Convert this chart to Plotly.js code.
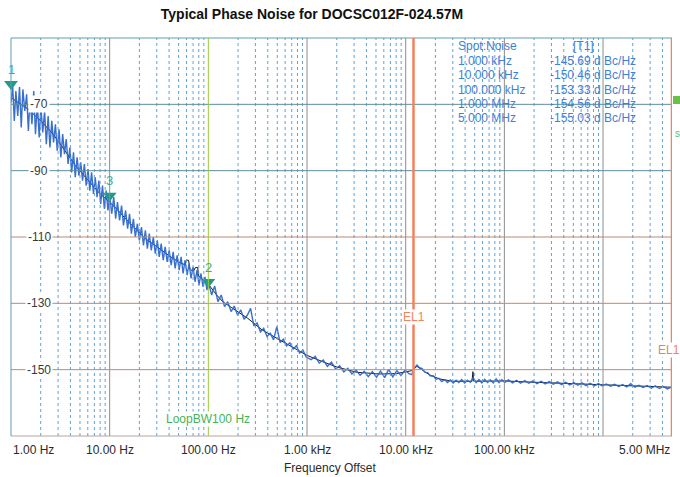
<!DOCTYPE html>
<html><head><meta charset="utf-8">
<script src="https://cdn.plot.ly/plotly-3.0.1.min.js"></script>
<style>html,body{margin:0;padding:0;background:#fff}#chart{width:680px;height:477px}</style>
</head><body><div id="chart"></div>
<script>
// ---- data ----
const noiseFreq = [
  1.00,1.04,1.08,1.12,1.17,1.22,1.27,1.32,1.38,1.44,1.50,1.56,1.63,1.70,1.77,1.85,1.93,2.01,2.10,2.19,2.28,2.38,2.48,2.59,2.70,2.82,2.94,3.07,3.20,3.34,3.48,3.63,3.79,3.95,4.12,4.30,4.48,4.68,4.88,5.09,5.31,5.54,5.78,6.03,6.29,6.56,6.85,7.14,7.45,7.77,8.11,8.46,8.83,9.21,9.61,10.0,
  10.5,11,11.5,12,12.6,13.2,13.8,14.5,15.2,15.9,16.6,17.4,18.2,19.1,20,21,22,23,24.1,25.2,26.4,27.7,29,30.4,31.8,33.3,34.9,36.5,38.3,40.1,42,44,46.1,48.3,50.6,53,55.5,58.1,60.9,63.8,66.8,70,73.3,76.8,80.4,84.2,88.2,92.4,96.8,100,
  108,116,125,135,146,157,170,183,198,213,230,248,268,289,312,337,364,393,424,458,494,533,575,621,670,723,780,842,909,981,
  1100,1210,1330,1460,1610,1770,1950,2140,2360,2590,2850,3140,3450,3800,4180,4600,5060,5560,6120,6730,7400,8140,8960,9850,
  10800,11500,12200,13000,13800,14700,15700,16700,17800,19000,20300,21700,23200,24800,26500,28300,30300,32400,34600,37000,39600,42300,45200,48300,51700,55300,59100,63200,67600,72300,77300,82600,88300,94400,
  1.01e5,1.10e5,1.21e5,1.33e5,1.46e5,1.61e5,1.77e5,1.95e5,2.14e5,2.36e5,2.59e5,2.85e5,3.14e5,3.45e5,3.80e5,4.18e5,4.60e5,5.06e5,5.56e5,6.12e5,6.73e5,7.40e5,8.14e5,8.96e5,9.85e5,
  1.08e6,1.19e6,1.31e6,1.44e6,1.58e6,1.74e6,1.91e6,2.10e6,2.31e6,2.54e6,2.80e6,3.08e6,3.38e6,3.72e6,4.09e6,4.50e6,4.95e6
];
const noiseDb = [
  -69.5,-64.5,-75,-66,-73.5,-64.8,-77,-65.5,-72,-67,-78,-68,-76,-66,-79,-69.5,-80,-71,-78.5,-72,-82,-73.5,-83,-75,-81.5,-76,-84,-77.5,-86,-79,-85,-80.5,-88,-83,-90.5,-84.5,-92,-86,-91.5,-87.5,-93,-88,-94.5,-89.5,-96,-90.5,-97,-92,-98,-93,-100,-94.5,-101.5,-96,-102,-97.5,
  -103,-98,-104.5,-99.5,-105,-100.5,-106.5,-102,-107.5,-103,-109,-104.5,-110,-106,-111,-107,-112.5,-108,-113.5,-109,-114,-110,-115,-111,-116,-112,-117,-113,-117.5,-114,-118.5,-114.5,-119.5,-115.5,-120,-116,-121,-117,-121.5,-118,-122.5,-119,-123.5,-120,-124.5,-121,-125,-122,-126,-123.5,
  -127.5,-124.8,-129.5,-127.5,-131,-129.5,-132.5,-130.8,-133.6,-132,-134.8,-133.6,-131.5,-136.8,-135.9,-138.6,-137.5,-140,-139,-141,-137,-141.8,-140.8,-142.8,-141.9,-143.8,-142.8,-145,-144.1,-146.2,
  -147,-146,-148,-147.1,-149,-147.7,-149.8,-148.8,-150.7,-149.6,-151.3,-150.1,-151.7,-150.5,-152.1,-150.6,-152.3,-150.4,-152.4,-149.9,-152.2,-150.3,-151.8,-150.1,
  -151.2,-151.5,-149.6,-148.6,-149.4,-149.7,-150.8,-150.9,-151.9,-151.8,-152.9,-152.6,-153.6,-153,-153.9,-153.1,-154,-153.2,-153.9,-153,-154,-153.2,-153.8,-152.4,-153.9,-153,-154,-152.9,-153.9,-153.1,-154,-152.8,-153.9,-153,
  -153.8,-153.1,-154,-153.2,-154.1,-153.3,-154.1,-153.4,-154.2,-153.5,-154.3,-153.6,-154.4,-153.7,-154.5,-153.8,-154.6,-153.9,-154.7,-154,-154.8,-154.1,-154.9,-154.2,-154.9,
  -154.3,-155,-154.4,-155.1,-154.5,-155.2,-154.2,-155.3,-154.7,-155.4,-154.8,-155.6,-154.9,-155.7,-155.1,-155.8,-155.2
];
const smoothFreq = [1,1.2,1.5,2,2.5,3,3.7,4.5,5.5,6.5,8,10,12,15,19,23,29,35,42,50,58,60,63,65,70,74,78,80,88,100,120,140,170,200,250,350,530,750,1000,1500,2000,3200,5500,8000,1e4,1.15e4,1.3e4,1.5e4,1.75e4,2.2e4,3e4,4.7e4,4.8e4,4.9e4,1e5,2e5,5e5,1e6,2e6,3e6,5e6];
const smoothDb = [-68,-69.5,-71.5,-75,-78,-81,-85,-88.5,-91.5,-94,-97,-99.5,-101.8,-105,-108,-110.5,-112.6,-114.5,-116.1,-117.5,-118.4,-117,-117,-119.5,-120.5,-119.2,-119.2,-121.8,-122.9,-124.2,-127.3,-129.5,-131.2,-132.5,-134.5,-138,-141,-143.5,-145.7,-147.8,-149.2,-150.8,-151.3,-151.2,-150.6,-150.3,-149,-150.2,-151.6,-152.8,-153.5,-153.5,-150.6,-153.5,-153.4,-153.8,-154.2,-154.6,-154.8,-155,-155.3];

const markerNames = ['1','3','2'];
const markerFreq = [1, 10, 100];
const markerDb = [-65.7, -99.4, -125.4];

const tickFreq = [1, 10, 100, 1000, 10000, 100000, 5000000];
const tickLabels = ['1.00 Hz','10.00 Hz','100.00 Hz','1.00 kHz','10.00 kHz','100.00 kHz','5.00 MHz'];
const yTicks = [-70, -90, -110, -130, -150];

const spotLabels = ['1.000 kHz','10.000 kHz','100.000 kHz','1.000 MHz','5.000 MHz'];
const spotValues = [-145.69, -150.46, -153.33, -154.56, -155.03];

const loopBwFreq = 100;
const el1Freqs = [12000, 5000000];

// ---- layout helpers ----
const FONT = 'Liberation Sans, Arial, sans-serif';
const L = 11, T = 38, PW = 661, PH = 398;
const YMIN = -170, YMAX = -50;
const XMAX = 5e6;
const px = x => (x - L) / PW;
const py = y => (T + PH - y) / PH;
const dbPerPx = (YMAX - YMIN) / PH;
const lg = f => Math.log10(f);

const shapes = [];
// vertical grid
for (let d = 0; d <= 6; d++) {
  for (let m = 1; m <= 9; m++) {
    const f = m * Math.pow(10, d);
    if (f >= XMAX) break;
    if (m === 1 && d === 0) continue;
    if (f === loopBwFreq) continue;
    if (m === 1) {
      shapes.push({type:'line', xref:'x', yref:'paper', x0:f, x1:f, y0:0, y1:1, line:{color:'#8d8d8d', width:1}});
    } else {
      shapes.push({type:'line', xref:'x', yref:'paper', x0:f, x1:f, y0:0, y1:1, line:{color:'#5fa3d6', width:1, dash:'dot'}});
    }
  }
}
// horizontal grid
yTicks.forEach((v, i) => {
  shapes.push({type:'line', xref:'paper', yref:'y', x0:0, x1:1, y0:v, y1:v,
    line:{color: i < 2 ? '#5b8f9c' : '#bd8a74', width:1}});
});
// borders
shapes.push({type:'line', xref:'paper', yref:'paper', x0:0, x1:1, y0:1, y1:1, line:{color:'#5f9db2', width:1}});
shapes.push({type:'line', xref:'paper', yref:'paper', x0:0, x1:1, y0:0, y1:0, line:{color:'#b5a4a0', width:1}});
shapes.push({type:'line', xref:'paper', yref:'paper', x0:0, x1:0, y0:0, y1:1, line:{color:'#5f9db2', width:1}});
// LoopBW line
shapes.push({type:'line', xref:'x', yref:'paper', x0:loopBwFreq, x1:loopBwFreq, y0:0, y1:1, line:{color:'#9ccc3c', width:1}});
// EL1 lines
el1Freqs.forEach(f => {
  shapes.push({type:'line', xref:'x', yref:'paper', x0:f, x1:f, y0:0, y1:1, line:{color:'#f2825c', width:2.5}});
});
// small green tag at right
shapes.push({type:'rect', xref:'paper', yref:'paper', x0:px(673), x1:px(680), y0:py(104), y1:py(96), fillcolor:'#6cc04a', line:{width:0}});

const annotations = [];
// x tick labels
tickFreq.forEach((f, i) => {
  annotations.push({x: lg(f), y: py(450), xref:'x', yref:'paper', text: tickLabels[i], showarrow:false,
    xanchor: i === 0 ? 'left' : (i === tickFreq.length - 1 ? 'right' : 'center'), yanchor:'middle',
    font:{family:FONT, size:12, color:'#2a2a2a'}});
});
annotations.push({x: px(330), y: py(468), xref:'paper', yref:'paper', text:'Frequency Offset', showarrow:false,
  xanchor:'center', yanchor:'middle', font:{family:FONT, size:12, color:'#2a2a2a'}});
// y tick labels inside plot
yTicks.forEach(v => {
  annotations.push({x: px(39), y: v, xref:'paper', yref:'y', text: String(v), showarrow:false,
    xanchor:'center', yanchor:'middle', bgcolor:'#ffffff', borderpad:1, font:{family:FONT, size:12, color:'#3a3a3a'}});
});
// spot noise table
const rowY = [46, 60.5, 75, 89.5, 104, 118.5];
const tblFont = {family:FONT, size:12, color:'#3f7fd4'};
annotations.push({x:px(456), y:py(rowY[0]), xref:'paper', yref:'paper', text:'Spot:Noise', showarrow:false, xanchor:'left', yanchor:'middle', font:tblFont});
annotations.push({x:px(571), y:py(rowY[0]), xref:'paper', yref:'paper', text:'[T1]', showarrow:false, xanchor:'left', yanchor:'middle', font:tblFont});
spotLabels.forEach((lab, i) => {
  annotations.push({x:px(456), y:py(rowY[i+1]), xref:'paper', yref:'paper', text:lab, showarrow:false, xanchor:'left', yanchor:'middle', font:tblFont});
  annotations.push({x:px(548), y:py(rowY[i+1]), xref:'paper', yref:'paper', text:spotValues[i].toFixed(2) + ' d Bc/Hz', showarrow:false, xanchor:'left', yanchor:'middle', font:tblFont});
});
// LoopBW label
annotations.push({x: lg(loopBwFreq), y: py(419), xref:'x', yref:'paper', text:'LoopBW100 Hz', showarrow:false,
  xanchor:'center', yanchor:'middle', bgcolor:'#ffffff', borderpad:0, font:{family:FONT, size:12, color:'#45b35a'}});
// EL1 labels
annotations.push({x: lg(el1Freqs[0]), y: py(317), xref:'x', yref:'paper', text:'EL1', showarrow:false,
  xanchor:'center', yanchor:'middle', bgcolor:'#ffffff', borderpad:0, font:{family:FONT, size:12, color:'#f2825c'}});
annotations.push({x: px(657), y: py(350), xref:'paper', yref:'paper', text:'EL1', showarrow:false,
  xanchor:'left', yanchor:'middle', bgcolor:'#ffffff', borderpad:0, font:{family:FONT, size:12, color:'#f2825c'}});
annotations.push({x: px(677), y: py(133), xref:'paper', yref:'paper', text:'s', showarrow:false,
  xanchor:'center', yanchor:'middle', font:{family:FONT, size:10, color:'#5cbf6a'}});
// marker numbers
markerFreq.forEach((f, i) => {
  annotations.push({x: lg(f), y: markerDb[i], xref:'x', yref:'y', text: markerNames[i], showarrow:false,
    yshift: 21, xanchor:'center', yanchor:'middle', font:{family:FONT, size:13, color:'#3aaaa0'}});
});

const traces = [
  {x: smoothFreq, y: smoothDb, type:'scatter', mode:'lines', line:{color:'#1a1a1a', width:1}, hoverinfo:'skip'},
  {x: noiseFreq, y: noiseDb, type:'scatter', mode:'lines', line:{color:'#2f68cc', width:1.4}, opacity:0.95, hoverinfo:'skip'},
  {x: markerFreq, y: markerDb.map(v => v + 6 * dbPerPx), type:'scatter', mode:'markers', cliponaxis:false,
   marker:{symbol:'triangle-down', size:12, color:'#1f9a8c', line:{width:0}}, hoverinfo:'skip'}
];

const layout = {
  width: 680, height: 477,
  margin: {l: L, r: 680 - L - PW, t: T, b: 477 - T - PH, pad: 0},
  paper_bgcolor: '#ffffff', plot_bgcolor: '#ffffff',
  showlegend: false,
  title: {text: '<b>Typical Phase Noise for DOCSC012F-024.57M</b>', x: 312/680, xref:'container', xanchor:'center',
    y: 1 - 14/477, yref:'container', yanchor:'middle', font:{family:FONT, size:14, color:'#111111'}},
  xaxis: {type:'log', range:[0, lg(XMAX)], showgrid:false, zeroline:false, showline:false, showticklabels:false, ticks:''},
  yaxis: {range:[YMIN, YMAX], showgrid:false, zeroline:false, showline:false, showticklabels:false, ticks:''},
  shapes: shapes,
  annotations: annotations
};

Plotly.newPlot('chart', traces, layout, {displayModeBar:false, staticPlot:true});
</script>
</body></html>
